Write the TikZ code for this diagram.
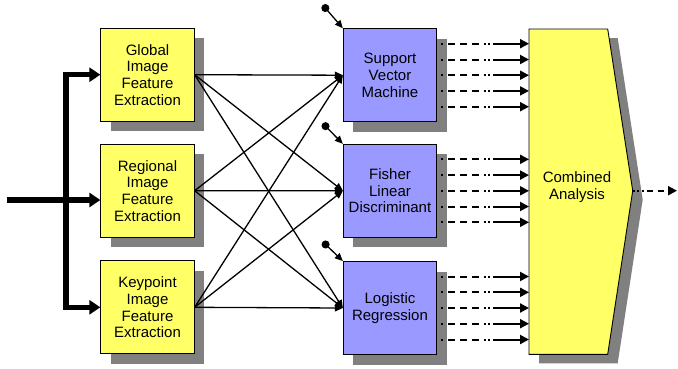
\documentclass[tikz,border=0pt]{standalone}
\usepackage{fontspec}
\setmainfont{Liberation Sans}
\usetikzlibrary{arrows.meta,shadows,calc}
\definecolor{boxyellow}{RGB}{255,255,102}
\definecolor{boxpurple}{RGB}{153,153,255}
\definecolor{shadowgray}{RGB}{128,128,128}
\tikzset{
  basebox/.style={draw=black, line width=0.9pt, minimum width=93.4pt, minimum height=93pt,
    inner sep=0pt, align=center, font=\fontsize{15pt}{16.7pt}\selectfont,
    drop shadow={shadow xshift=10pt, shadow yshift=-10pt, fill=shadowgray, opacity=1}},
  ybox/.style={basebox, fill=boxyellow},
  pbox/.style={basebox, fill=boxpurple},
  thickarrow/.style={line width=5.5pt, -{Triangle[length=11pt,width=14pt]}},
  thinarrow/.style={line width=1.3pt, -{Triangle[length=8pt,width=7pt]}},
  dotarrow/.style={line width=1.3pt, {Circle[length=8pt]}-{Triangle[length=8pt,width=7pt]}},
  dasharrow/.style={line width=2pt, -{Triangle[length=9pt,width=9pt]},
    dash pattern={on 0pt off 4pt on 2pt off 5pt on 7pt off 5pt on 7pt off 5pt on 7pt off 4.5pt on 2pt off 2.5pt on 2pt off 2.5pt on 60pt}},
  outarrow/.style={line width=2pt, -{Triangle[length=9pt,width=9pt]},
    dash pattern={on 2pt off 2.5pt on 2pt off 2.5pt on 2pt off 3pt on 6pt off 5pt on 6pt off 5pt on 40pt}},
}
\begin{document}
\begin{tikzpicture}[x=1pt,y=-1pt]
\useasboundingbox (0,0) rectangle (678,368);
% feature extraction boxes
\node[ybox] (glob) at (147.5,74.7) {Global\\Image\\Feature\\Extraction};
\node[ybox] (reg)  at (147.5,190.7) {Regional\\Image\\Feature\\Extraction};
\node[ybox] (key)  at (147.5,307.3) {Keypoint\\Image\\Feature\\Extraction};
% classifier boxes
\node[pbox] (svm) at (390,75.2) {Support\\Vector\\Machine};
\node[pbox] (fld) at (390,190.8) {Fisher\\Linear\\Discriminant};
\node[pbox] (lr)  at (390,308) {Logistic\\Regression};
% combined analysis chevron
\coordinate (cNW) at (529,29);
\coordinate (cNE) at (607.7,29);
\coordinate (cE)  at (632.7,190.7);
\coordinate (cSE) at (607.7,354.3);
\coordinate (cSW) at (529,354.3);
\fill[shadowgray] ($(cNW)+(10,9)$) -- ($(cNE)+(10,9)$) -- ($(cE)+(10,9)$) -- ($(cSE)+(10,9)$) -- ($(cSW)+(10,9)$) -- cycle;
\draw[fill=boxyellow, line width=0.9pt] (cNW) -- (cNE) -- (cE) -- (cSE) -- (cSW) -- cycle;
\node[align=center, font=\fontsize{15pt}{16.7pt}\selectfont] (comb) at (577,187) {Combined\\Analysis};
% input
\coordinate (inp) at (6.5,200);
\coordinate (split) at (66,200);
\draw[line width=5.5pt, {Triangle[length=11pt,width=14pt]}-{Triangle[length=11pt,width=14pt]}]
  (glob.west) -| (split) |- (key.west);
\draw[thickarrow] (inp) -- (reg.west |- inp);
% full connections
\foreach \s in {glob,reg,key}{
  \foreach \t in {svm,fld,lr}{
    \draw[thinarrow] (\s.east) -- (\t.west);
  }
}
% parameter inputs
\coordinate (d1) at (322.7,5);
\coordinate (d2) at (322.7,123.3);
\coordinate (d3) at (322.7,241.7);
\draw[dotarrow] (d1) -- (svm.north west);
\draw[dotarrow] (d2) -- (fld.north west);
\draw[dotarrow] (d3) -- (lr.north west);
% outputs to combined analysis
\foreach \c in {svm,fld,lr}{
  \foreach \dy in {31.5,15.7,0,-15.7,-31.5}{
    \draw[dasharrow] ([yshift=\dy pt]\c.east) -- ([yshift=\dy pt]\c.east -| cNW);
  }
}
\coordinate (outp) at (677,190.7);
\draw[outarrow] (cE) -- (outp);
\end{tikzpicture}
\end{document}
